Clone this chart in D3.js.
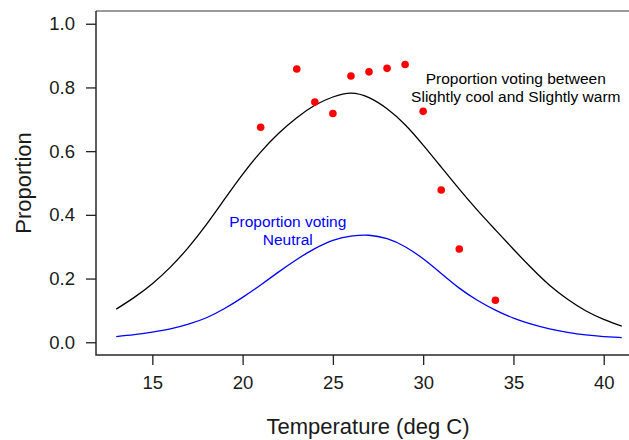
<!DOCTYPE html>
<meta charset="utf-8">
<style>
    body { margin: 0; background: #fff; }
    text { font-family: "Liberation Sans", Arial, Helvetica, sans-serif; }
    .tick text { font-size: 18.5px; fill: #1a1a1a; }
    .tick line { stroke: #222; stroke-width: 1.3px; }
</style>
<svg id="svg" width="629" height="440"></svg>
<script src="https://d3js.org/d3.v7.min.js"></script>
<script>

    // observed proportions voting in the middle three categories
    var obsTemp = [21, 23, 24, 25, 26, 27, 28, 29, 30, 31, 32, 34];
    var obsProp = [0.675, 0.858, 0.754, 0.718, 0.836, 0.849, 0.860, 0.872, 0.725, 0.478, 0.293, 0.132];

    // fitted curves, read at whole degrees from 13 to 41
    var fitTemp = d3.range(13, 42);
    var fitBetween = [0.104, 0.141, 0.184, 0.236, 0.298, 0.370, 0.449, 0.527, 0.597, 0.656, 0.705, 0.744, 0.770, 0.782,
        0.768, 0.733, 0.683, 0.619, 0.550, 0.481, 0.415, 0.353, 0.292, 0.233, 0.179, 0.135, 0.099, 0.072, 0.051];
    var fitNeutral = [0.018, 0.024, 0.032, 0.042, 0.057, 0.077, 0.106, 0.141, 0.180, 0.221, 0.260, 0.294, 0.320, 0.333,
        0.336, 0.325, 0.300, 0.262, 0.216, 0.170, 0.132, 0.101, 0.076, 0.057, 0.042, 0.031, 0.023, 0.018, 0.0145];

    var xTicks = [15, 20, 25, 30, 35, 40];
    var yTicks = [0, 0.2, 0.4, 0.6, 0.8, 1.0];

    var svg = d3.select("svg");

    // plot region: xlim 13..41 and ylim 0..1, each padded by 4%
    var x = d3.scaleLinear().domain([11.88, 42.12]).range([96, 642]);
    var y = d3.scaleLinear().domain([-0.04, 1.04]).range([355, 11]);

    // frame: grey top/right, darker left/bottom
    svg.append("path")
        .attr("d", "M96,11H642V355")
        .attr("fill", "none")
        .attr("stroke", "#7a7a7a")
        .attr("stroke-width", 1.5);
    svg.append("path")
        .attr("d", "M96,11V355H642")
        .attr("fill", "none")
        .attr("stroke", "#2a2a2a")
        .attr("stroke-width", 1.5);

    var xAxis = svg.append("g")
        .attr("transform", "translate(0,355)")
        .call(d3.axisBottom(x).tickValues(xTicks).tickSize(10).tickPadding(11).tickFormat(d3.format("d")));
    xAxis.select(".domain").remove();

    var yAxis = svg.append("g")
        .attr("transform", "translate(96,0)")
        .call(d3.axisLeft(y).tickValues(yTicks).tickSize(10).tickPadding(11).tickFormat(d3.format(".1f")));
    yAxis.select(".domain").remove();

    // axis titles
    svg.append("text")
        .attr("x", 368)
        .attr("y", 434)
        .attr("text-anchor", "middle")
        .style("font-size", "22px")
        .attr("fill", "#1a1a1a")
        .text("Temperature (deg C)");

    svg.append("text")
        .attr("transform", "translate(31,183) rotate(-90)")
        .attr("text-anchor", "middle")
        .style("font-size", "22px")
        .attr("fill", "#1a1a1a")
        .text("Proportion");

    var line = function (ys) {
        return d3.line()
            .x(function (d, i) { return x(fitTemp[i]); })
            .y(function (d) { return y(d); })
            .curve(d3.curveNatural)(ys);
    };

    svg.append("path")
        .attr("d", line(fitBetween))
        .attr("fill", "none")
        .attr("stroke", "#000")
        .attr("stroke-width", 1.3);

    svg.append("path")
        .attr("d", line(fitNeutral))
        .attr("fill", "none")
        .attr("stroke", "#0000ff")
        .attr("stroke-width", 1.3);

    svg.append("g")
        .selectAll("circle")
        .data(obsTemp)
        .enter().append("circle")
        .attr("cx", function (d) { return x(d); })
        .attr("cy", function (d, i) { return y(obsProp[i]); })
        .attr("r", 3.8)
        .attr("fill", "#ff0000");

    // curve labels, placed in data units
    function label(tx, py, lines, colour) {
        var t = svg.append("text")
            .attr("text-anchor", "middle")
            .attr("fill", colour)
            .style("font-size", "15.5px");
        lines.forEach(function (s, i) {
            t.append("tspan")
                .attr("x", x(tx))
                .attr("y", y(py) + (i - (lines.length - 1) / 2) * 18)
                .attr("dy", "0.35em")
                .text(s);
        });
    }

    label(35.13, 0.80, ["Proportion voting between", "Slightly cool and Slightly warm"], "#000");
    label(22.5, 0.35, ["Proportion voting", "Neutral"], "#0000ff");

</script>
